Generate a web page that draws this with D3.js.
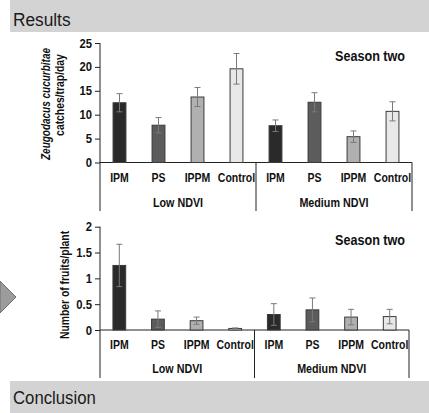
<!DOCTYPE html>
<html>
<head>
<meta charset="utf-8">
<script src="https://cdn.jsdelivr.net/npm/d3@7"></script>
<style>
  html, body { margin: 0; padding: 0; background: #fff; }
  svg { display: block; }
</style>
</head>
<body>
<div id="chart"></div>
<script>
const groups = ['Low NDVI', 'Medium NDVI'];
const treatments = ['IPM', 'PS', 'IPPM', 'Control'];
const treatmentColors = ['#2a2a2a', '#5c5c5c', '#b0b0b0', '#e8e8e8'];

const catchMeans = [12.5, 7.8, 13.7, 19.6, 7.7, 12.6, 5.4, 10.7];
const catchErr = [1.9, 1.6, 2.0, 3.2, 1.2, 2.0, 1.2, 2.0];
const catchTicks = [0, 5, 10, 15, 20, 25];

const fruitMeans = [1.25, 0.21, 0.18, 0.03, 0.3, 0.39, 0.25, 0.26];
const fruitErr = [0.41, 0.16, 0.07, 0.01, 0.21, 0.23, 0.15, 0.14];
const fruitTicks = [0, 0.5, 1, 1.5, 2];

const W = 429, H = 413;
const FONT = 'Liberation Sans, Arial, Helvetica, sans-serif';
const NARROW = 0.84;

const svg = d3.select('#chart').append('svg')
  .attr('width', W)
  .attr('height', H)
  .attr('viewBox', `0 0 ${W} ${H}`);

// header / footer bands
svg.append('rect').attr('x', 10).attr('y', 0).attr('width', W - 10).attr('height', 32).attr('fill', '#d3d3d3');
svg.append('text').attr('x', 13).attr('y', 26).attr('font-family', FONT).attr('font-size', 18)
  .attr('fill', '#1a1a1a').attr('transform', 'translate(13,0) scale(0.96,1) translate(-13,0)')
  .text('Results');
svg.append('rect').attr('x', 10).attr('y', 381).attr('width', W - 10).attr('height', 32).attr('fill', '#d3d3d3');
svg.append('text').attr('x', 13).attr('y', 404).attr('font-family', FONT).attr('font-size', 18)
  .attr('fill', '#1a1a1a').attr('transform', 'translate(13,0) scale(0.93,1) translate(-13,0)')
  .text('Conclusion');

// side arrow
svg.append('path').attr('d', 'M0,281 L16,297 L0,313 Z')
  .attr('fill', '#9c9c9c').attr('stroke', '#6e6e6e').attr('stroke-width', 1);

function narrowText(sel, x, y, str, opts) {
  const o = Object.assign({ size: 12.5, anchor: 'middle', weight: 'bold', style: 'normal', sx: NARROW }, opts);
  return sel.append('text')
    .attr('transform', `translate(${x},${y}) scale(${o.sx},1)`)
    .attr('text-anchor', o.anchor)
    .attr('font-family', FONT)
    .attr('font-size', o.size)
    .attr('font-weight', o.weight)
    .attr('font-style', o.style)
    .attr('fill', '#111')
    .text(str);
}

function drawPanel(cfg) {
  const g = svg.append('g');
  const cats = groups.flatMap(gr => treatments.map(t => `${gr}|${t}`));

  const x = d3.scaleBand().domain(cats).range([cfg.left, cfg.right]).paddingInner(0.67).paddingOuter(0.335);
  const y = d3.scaleLinear().domain([0, d3.max(cfg.ticks)]).range([cfg.bottom, cfg.top]);

  // y axis
  const yAxis = g.append('g')
    .attr('transform', `translate(${cfg.left},0)`)
    .call(d3.axisLeft(y).tickValues(cfg.ticks).tickSize(5).tickPadding(4).tickFormat(d3.format('')));
  yAxis.select('.domain').remove();
  yAxis.selectAll('line').attr('stroke', '#222');
  yAxis.selectAll('text')
    .attr('font-family', FONT).attr('font-size', 12.5).attr('font-weight', 'bold').attr('fill', '#111')
    .attr('transform', `scale(0.9,1)`);

  // axis lines incl. multi-level category dividers
  g.append('line').attr('x1', cfg.left).attr('x2', cfg.left).attr('y1', cfg.top).attr('y2', cfg.divBottom)
    .attr('stroke', '#222');
  g.append('line').attr('x1', cfg.left).attr('x2', cfg.right).attr('y1', cfg.bottom).attr('y2', cfg.bottom)
    .attr('stroke', '#222');
  const mid = (cfg.left + cfg.right) / 2;
  [mid, cfg.right].forEach(px => {
    g.append('line').attr('x1', px).attr('x2', px).attr('y1', cfg.bottom).attr('y2', cfg.divBottom)
      .attr('stroke', '#222');
  });

  // bars
  g.selectAll('.bar')
    .data(cfg.means)
    .enter()
    .append('rect')
    .attr('class', 'bar')
    .attr('x', (d, i) => x(cats[i]))
    .attr('width', x.bandwidth())
    .attr('y', d => y(d))
    .attr('height', d => y(0) - y(d))
    .attr('fill', (d, i) => treatmentColors[i % 4])
    .attr('stroke', '#3a3a3a')
    .attr('stroke-width', 1);

  // error bars
  const eb = g.selectAll('.err')
    .data(cfg.means)
    .enter()
    .append('g')
    .attr('class', 'err')
    .attr('transform', (d, i) => `translate(${x(cats[i]) + x.bandwidth() / 2},0)`)
    .attr('stroke', '#7a7a7a')
    .attr('stroke-width', 1);
  eb.append('line').attr('y1', (d, i) => y(d - cfg.err[i])).attr('y2', (d, i) => y(d + cfg.err[i]));
  eb.append('line').attr('x1', -3).attr('x2', 3).attr('y1', (d, i) => y(d + cfg.err[i])).attr('y2', (d, i) => y(d + cfg.err[i]));
  eb.append('line').attr('x1', -3).attr('x2', 3).attr('y1', (d, i) => y(Math.max(0, d - cfg.err[i]))).attr('y2', (d, i) => y(Math.max(0, d - cfg.err[i])));

  // category labels
  cats.forEach(c => {
    narrowText(g, x(c) + x.bandwidth() / 2, cfg.catY, c.split('|')[1]);
  });
  groups.forEach((gr, i) => {
    const cx = i === 0 ? (cfg.left + mid) / 2 : (mid + cfg.right) / 2;
    narrowText(g, cx, cfg.groupY, gr, { sx: 0.86 });
  });

  narrowText(g, 405, cfg.seasonY, 'Season two', { size: 14, anchor: 'end', sx: 0.9 });

  cfg.title.forEach(t => {
    g.append('text')
      .attr('transform', `translate(${t.x},${t.y}) rotate(-90) scale(${t.sx},1)`)
      .attr('text-anchor', 'middle')
      .attr('font-family', FONT)
      .attr('font-size', 12.5)
      .attr('font-weight', 'bold')
      .attr('font-style', t.italic ? 'italic' : 'normal')
      .attr('fill', '#111')
      .text(t.text);
  });
}

drawPanel({
  left: 100, right: 412, top: 43, bottom: 162.5, divBottom: 211,
  ticks: catchTicks, means: catchMeans, err: catchErr,
  catY: 182, groupY: 207, seasonY: 61,
  title: [
    { text: 'Zeugodacus cucurbitae', x: 50, y: 104, italic: true, sx: 0.8 },
    { text: 'catches/trap/day', x: 64, y: 95, italic: false, sx: 0.83 }
  ]
});

drawPanel({
  left: 100, right: 409, top: 226.7, bottom: 330, divBottom: 378,
  ticks: fruitTicks, means: fruitMeans, err: fruitErr,
  catY: 349, groupY: 373, seasonY: 245,
  title: [
    { text: 'Number of fruits/plant', x: 69, y: 285, italic: false, sx: 0.83 }
  ]
});
</script>
</body>
</html>
